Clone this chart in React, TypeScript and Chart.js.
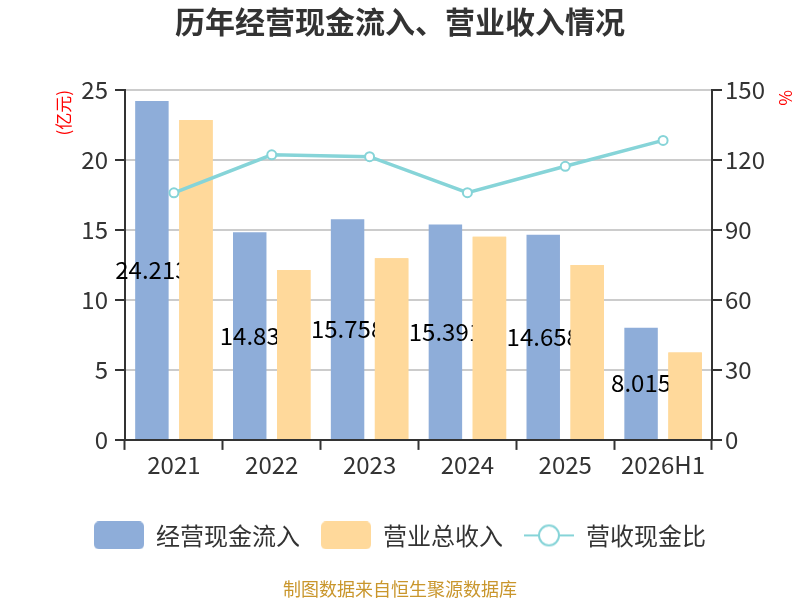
import React, { useEffect, useRef } from 'react';
import { Chart, registerables } from 'chart.js';

Chart.register(...registerables);

// chart data
const years = ['2021', '2022', '2023', '2024', '2025', '2026H1'];
const cashInflow = [24.213, 14.83, 15.758, 15.391, 14.658, 8.015]; // 亿元
const revenue = [22.86, 12.14, 12.98, 14.52, 12.5, 6.24]; // 亿元
const cashRatio = [105.9, 122.2, 121.4, 106.0, 117.3, 128.4]; // %
const leftTicks = [0, 5, 10, 15, 20, 25];
const rightTicks = [0, 30, 60, 90, 120, 150];

const FONT = "'Noto Sans CJK SC', 'Noto Sans', sans-serif";
const BLUE = '#8EADD9';
const ORANGE = '#FFD99B';
const TEAL = '#86D4D8';

function boxIcon(color: string) {
    const c = document.createElement('canvas');
    c.width = 50;
    c.height = 28;
    const g = c.getContext('2d')!;
    g.fillStyle = color;
    g.beginPath();
    g.roundRect(0, 0, 50, 28, 5);
    g.fill();
    return c;
}

function lineIcon(color: string) {
    const c = document.createElement('canvas');
    c.width = 50;
    c.height = 28;
    const g = c.getContext('2d')!;
    g.strokeStyle = color;
    g.lineWidth = 2;
    g.beginPath();
    g.moveTo(0, 14);
    g.lineTo(50, 14);
    g.stroke();
    g.beginPath();
    g.arc(25, 14, 10, 0, Math.PI * 2);
    g.fillStyle = '#fff';
    g.fill();
    g.stroke();
    return c;
}

// value labels sit in the middle of the blue bars; the orange bars are
// painted again afterwards so they cover the overflowing text, like the reference
const barLabels = {
    id: 'barLabels',
    afterDatasetDraw(chart: any, args: any) {
        if (args.index !== 0) return;
        const ctx = chart.ctx;
        ctx.save();
        ctx.font = `24px ${FONT}`;
        ctx.fillStyle = '#000';
        ctx.textAlign = 'center';
        ctx.textBaseline = 'middle';
        args.meta.data.forEach((bar: any, i: number) => {
            const { x, y, base } = bar.getProps(['x', 'y', 'base'], true);
            ctx.fillText(String(cashInflow[i]), x, (y + base) / 2);
        });
        ctx.restore();
        const orange = chart.getDatasetMeta(1);
        if (orange && orange.visible) orange.controller.draw();
    },
};

export default function App() {
    const canvasRef = useRef<HTMLCanvasElement>(null);

    useEffect(() => {
        if (!canvasRef.current) return;
        const icons = [boxIcon(BLUE), boxIcon(ORANGE), lineIcon(TEAL)];
        const names = ['经营现金流入', '营业总收入', '营收现金比'];

        const chart = new Chart(canvasRef.current, {
            type: 'bar',
            data: {
                labels: years,
                datasets: [
                    {
                        label: names[0],
                        data: cashInflow,
                        backgroundColor: BLUE,
                        yAxisID: 'y',
                        order: 1,
                        categoryPercentage: 0.9,
                        barPercentage: 0.76,
                    },
                    {
                        label: names[1],
                        data: revenue,
                        backgroundColor: ORANGE,
                        yAxisID: 'y',
                        order: 1,
                        categoryPercentage: 0.9,
                        barPercentage: 0.76,
                    },
                    {
                        type: 'line',
                        label: names[2],
                        data: cashRatio,
                        yAxisID: 'y1',
                        order: 0,
                        borderColor: TEAL,
                        borderWidth: 3.5,
                        pointRadius: 4.5,
                        pointBackgroundColor: '#fff',
                        pointBorderColor: TEAL,
                        pointBorderWidth: 2,
                        tension: 0,
                    } as any,
                ],
            },
            options: {
                animation: false,
                responsive: true,
                maintainAspectRatio: false,
                layout: { padding: 0 },
                scales: {
                    x: {
                        z: 1,
                        offset: true,
                        afterFit: (s: any) => { s.height = 62.5; },
                        grid: {
                            offset: true,
                            drawOnChartArea: false,
                            tickLength: 10,
                            tickColor: '#333',
                            tickWidth: 2,
                        },
                        border: { color: '#333', width: 2 },
                        ticks: { color: '#333', padding: 1, font: { size: 24, family: FONT } },
                    },
                    y: {
                        position: 'left',
                        min: leftTicks[0],
                        max: leftTicks[leftTicks.length - 1],
                        afterFit: (s: any) => { s.width = 125; },
                        afterBuildTicks: (s: any) => { s.ticks = leftTicks.map(v => ({ value: v })); },
                        grid: {
                            color: (c: any) => (c.tick && c.tick.value === 0 ? '#333' : '#ccc'),
                            lineWidth: 2,
                            tickLength: 10,
                            tickColor: '#333',
                            tickWidth: 2,
                        },
                        border: { color: '#333', width: 2 },
                        ticks: { color: '#333', padding: 7, font: { size: 24, family: FONT } },
                        title: {
                            display: true,
                            text: '(亿元)',
                            align: 'end',
                            color: '#f00',
                            font: { size: 17, family: FONT },
                            padding: { top: 53, bottom: 0 },
                        },
                    },
                    y1: {
                        position: 'right',
                        min: rightTicks[0],
                        max: rightTicks[rightTicks.length - 1],
                        afterFit: (s: any) => { s.width = 88; },
                        afterBuildTicks: (s: any) => { s.ticks = rightTicks.map(v => ({ value: v })); },
                        grid: {
                            drawOnChartArea: false,
                            tickLength: 10,
                            color: '#333',
                            lineWidth: 2,
                        },
                        border: { color: '#333', width: 2 },
                        ticks: { color: '#333', padding: 3, font: { size: 24, family: FONT } },
                        title: {
                            display: true,
                            text: '%',
                            align: 'end',
                            color: '#f00',
                            font: { size: 17, family: FONT },
                            padding: { top: 4, bottom: 0 },
                        },
                    },
                },
                plugins: {
                    title: {
                        display: true,
                        text: '历年经营现金流入、营业收入情况',
                        color: '#333',
                        font: { size: 30, weight: 'bold', family: FONT },
                        padding: { top: 4, bottom: 50 },
                    },
                    subtitle: {
                        display: true,
                        position: 'bottom',
                        text: '制图数据来自恒生聚源数据库',
                        color: '#C9962C',
                        font: { size: 18, family: FONT },
                        padding: { top: 21, bottom: 0 },
                    },
                    legend: {
                        position: 'bottom',
                        labels: {
                            usePointStyle: true,
                            pointStyleWidth: 50,
                            padding: 21,
                            color: '#333',
                            font: { size: 24, family: FONT },
                            generateLabels: () =>
                                names.map((n, i) => ({
                                    text: n,
                                    pointStyle: icons[i],
                                    fillStyle: 'transparent',
                                    strokeStyle: 'transparent',
                                    lineWidth: 0,
                                    hidden: false,
                                    datasetIndex: i,
                                    fontColor: '#333',
                                })),
                        },
                    },
                    tooltip: { enabled: false },
                },
            },
            plugins: [barLabels],
        });

        return () => chart.destroy();
    }, []);

    return (
        <div style={{ position: 'fixed', left: 0, top: 0, width: 800, height: 600, background: '#fff' }}>
            <canvas ref={canvasRef}></canvas>
        </div>
    );
}
